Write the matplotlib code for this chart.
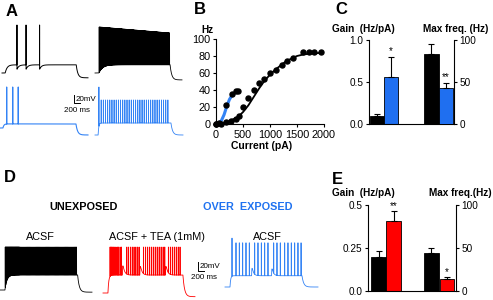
import numpy as np
import matplotlib
matplotlib.use("Agg")
import matplotlib.pyplot as plt

plt.rcParams['font.family'] = ['Liberation Sans', 'DejaVu Sans']

# ---------------- DATA ----------------
# Panel B: firing frequency (Hz) vs injected current (pA)
b_black_pts_x = [0, 100, 180, 280, 370, 420, 500, 600, 700, 800, 890, 1000, 1110, 1220, 1320, 1430, 1620, 1720, 1820, 1940]
b_black_pts_y = [0, 0, 2, 4, 6, 10, 20, 31, 40, 48, 53, 60, 64, 69, 74, 78, 85, 85, 85, 85]
b_blue_pts_x = [0, 50, 185, 300, 370, 400]
b_blue_pts_y = [0, 1, 22, 35, 39, 39]
b_black_fit_x = [0, 200, 400, 500, 600, 700, 800, 900, 1000, 1100, 1200, 1300, 1400, 1500, 1600, 1700, 1800, 1900]
b_black_fit_y = [0, 2, 8, 14, 22, 32, 42, 51, 58, 64, 69, 74, 77, 80, 81.5, 82.5, 83, 83.5]
b_blue_fit_x = [0, 50, 100, 150, 200, 250, 300, 350, 400]
b_blue_fit_y = [0, 1, 4, 11, 21, 29, 34, 37, 38]

# Panel C: gain and max frequency (control black, over-exposed blue)
c_gain = [0.10, 0.56]
c_gain_err_top = [0.12, 0.80]
c_gain_sig = ['', '*']
c_maxf = [83, 43]
c_maxf_err_top = [95, 49]
c_maxf_sig = ['', '**']

# Panel E: gain and max frequency (ACSF black, ACSF+TEA red)
e_gain = [0.20, 0.405]
e_gain_err_top = [0.23, 0.465]
e_gain_sig = ['', '**']
e_maxf = [44, 14]
e_maxf_err_top = [50, 16]
e_maxf_sig = ['', '*']

# Voltage traces (ms, mV); spike peaks referenced to +30 mV, rest -70 mV
a1_spikes = [470, 755, 1180]
a1_peaks = [30, 30, 30]
a2_first_spike, a2_last_spike, a2_isi = 130, 2320, 12
a2_peak_first, a2_peak_last = 30, 17
a3_spikes = [205, 390, 560]
a3_peaks = [30, 30, 30]
a4_first_spike, a4_first_peak = 120, 30
a4_train_start, a4_train_end, a4_isi, a4_peak = 190, 2300, 66, 3
d1_fast_start, d1_fast_end, d1_fast_isi = 160, 600, 14
d1_slow_start, d1_slow_end, d1_slow_isi = 630, 2350, 34
d2_spikes = [215, 240, 265, 295, 325, 360, 395, 435, 475, 520, 565,
             725, 780, 835, 890, 945, 1000, 1055, 1100,
             1230, 1290, 1350, 1410, 1470, 1530, 1590, 1650, 1710, 1770, 1830, 1880,
             1990, 2050, 2110, 2170, 2230, 2290, 2345]
d2_humps = [(590, 32, 50), (1120, 30, 50), (1900, 30, 50)]
d3_spikes = [211, 331, 431, 532, 632, 732, 894, 993, 1094, 1195, 1294,
             1466, 1565, 1665, 1797, 1896, 1996, 2098, 2197, 2290]
d3_peaks = [34] + [24] * 19
d3_humps = [(800, 26, 45), (1400, 24, 45)]

# ---------------- STYLE / LAYOUT ----------------
BLUE = '#3383f5'
BLUE_TXT = '#1f72f0'
BLUE_BAR = '#1f6ff0'
RED = '#ff0000'
TICK_FS = 7.2
LAB_FS = 7.2
W, H = 493, 300
fig = plt.figure(figsize=(W / 100, H / 100), dpi=100)


def box(x0, y0, x1, y1):
    return [x0 / W, 1 - y1 / H, (x1 - x0) / W, (y1 - y0) / H]


def label(x, y, s, **kw):
    kw.setdefault('ha', 'center')
    kw.setdefault('va', 'center')
    fig.text(x / W, 1 - y / H, s, **kw)


def build_trace(T, on, off, rest, plateau, after, trough, spikes, peaks,
                tau_on=40, tau_off=50, tau_ahp=40, humps=()):
    t = np.arange(0, T, 0.5)
    base = np.full_like(t, rest, dtype=float)
    m = (t >= on) & (t < off)
    base[m] = rest + (plateau - rest) * (1 - np.exp(-(t[m] - on) / tau_on))
    v_off = rest + (plateau - rest) * (1 - np.exp(-(off - on) / tau_on))
    m2 = t >= off
    base[m2] = after + (v_off - after) * np.exp(-(t[m2] - off) / tau_off)
    ahp = np.zeros_like(t)
    for s in spikes:
        k = (t >= s + 1.5) & (t < off)
        ahp[k] = np.minimum(ahp[k], (trough - plateau) * np.exp(-(t[k] - s - 1.5) / tau_ahp))
    v = base + ahp
    for (h0, amp, tau) in humps:
        k = (t >= h0) & (t < off)
        v[k] += amp * (1 - np.exp(-(t[k] - h0) / 8)) * np.exp(-(t[k] - h0) / tau)
    for s, p in zip(spikes, peaks):
        k = (t >= s - 1) & (t <= s + 1.5)
        v_pre = np.interp(s - 1, t, v)
        v_post = np.interp(s + 1.5, t, v)
        v[k] = np.interp(t[k], [s - 1, s, s + 1.5], [v_pre, p, v_post])
    return t, v


def trace_axes(x0, x1, px_peak, px_rest, T, pad_top=4, pad_bot=9):
    s = 100.0 / (px_rest - px_peak)
    ax = fig.add_axes(box(x0, px_peak - pad_top, x1, px_rest + pad_bot))
    ax.set_xlim(0, T)
    ax.set_ylim(-70 - pad_bot * s, 30 + pad_top * s)
    ax.axis('off')
    return ax


def scale_bar(x0, y0, x1, y1):
    ax = fig.add_axes(box(x0, y0, x1, y1))
    ax.plot([0, 0, 200], [20, 0, 0], color='k', lw=0.7, clip_on=False)
    ax.set_xlim(0, 200)
    ax.set_ylim(0, 20)
    ax.axis('off')


# ---------------- PANEL A ----------------
T = 2700
t, v = build_trace(T, 100, 2330, -70, -53, -80, -62, a1_spikes, a1_peaks, tau_on=60, tau_ahp=60)
trace_axes(2, 88, 25, 73, T).plot(t, v, color='k', lw=0.7, clip_on=False)

a2_spikes = np.arange(a2_first_spike, a2_last_spike, a2_isi)
a2_peaks = np.linspace(a2_peak_first, a2_peak_last, len(a2_spikes))
t, v = build_trace(T, 120, 2330, -70, -52, -85, -52, a2_spikes, a2_peaks, tau_on=120)
trace_axes(95, 182, 27, 73, T).plot(t, v, color='k', lw=0.6, clip_on=False)

t, v = build_trace(T, 90, 2330, -70, -60, -87, -43, a3_spikes, a3_peaks, tau_on=30, tau_ahp=60)
trace_axes(0, 88, 87, 128, T).plot(t, v, color=BLUE, lw=0.8, clip_on=False)

a4_spikes = [a4_first_spike] + list(np.arange(a4_train_start, a4_train_end, a4_isi))
a4_peaks = [a4_first_peak] + [a4_peak] * (len(a4_spikes) - 1)
t, v = build_trace(T, 95, 2330, -70, -45, -70, -41, a4_spikes, a4_peaks, tau_on=20, tau_ahp=25)
trace_axes(95, 183, 87, 135, T).plot(t, v, color=BLUE, lw=0.6, clip_on=False)

scale_bar(74, 95, 80, 103)
label(75.5, 99, '20mV', ha='left', fontsize=5.8)
label(77, 110, '200 ms', fontsize=5.8)

# ---------------- PANEL D ----------------
T = 2800
d1_spikes = list(np.arange(d1_fast_start, d1_fast_end, d1_fast_isi)) + list(np.arange(d1_slow_start, d1_slow_end, d1_slow_isi))
t, v = build_trace(T, 150, 2362, -70, -35, -75, -35, d1_spikes, [30] * len(d1_spikes), tau_on=60)
trace_axes(0, 92, 247, 290, T).plot(t, v, color='k', lw=0.6, clip_on=False)

t, v = build_trace(T, 150, 2432, -70, -31, -78, -31, d2_spikes, [30] * len(d2_spikes), tau_on=25, humps=d2_humps)
trace_axes(103, 195, 247, 293, T).plot(t, v, color=RED, lw=0.6, clip_on=False)

t, v = build_trace(T, 150, 2318, -70, -46, -70, -46, d3_spikes, d3_peaks, tau_on=20, humps=d3_humps)
trace_axes(225, 318, 240, 287, T).plot(t, v, color=BLUE, lw=0.6, clip_on=False)

scale_bar(198, 262, 204, 271)
label(199.5, 266, '20mV', ha='left', fontsize=5.8)
label(204, 277.5, '200 ms', fontsize=5.8)

label(84, 207, 'UNEXPOSED', fontsize=7.8, fontweight='bold')
label(248, 207, 'OVER  EXPOSED', fontsize=7.8, fontweight='bold', color=BLUE_TXT)
label(40, 237, 'ACSF', fontsize=7.8)
label(157, 237, 'ACSF + TEA (1mM)', fontsize=7.8)
label(267, 237, 'ACSF', fontsize=7.8)

# ---------------- PANEL B ----------------
axB = fig.add_axes(box(216, 39, 324, 124))
axB.plot(b_black_fit_x, b_black_fit_y, color='k', lw=1.3, clip_on=False)
axB.plot(b_blue_fit_x, b_blue_fit_y, color=BLUE, lw=2.2, clip_on=False)
axB.plot(b_black_pts_x, b_black_pts_y, 'o', color='k', ms=3.6, clip_on=False)
axB.plot(b_blue_pts_x, b_blue_pts_y, 'o', color='k', ms=3.6, clip_on=False)
axB.set_xlim(0, 2000)
axB.set_ylim(0, 100)
axB.set_xticks([0, 500, 1000, 1500, 2000])
axB.set_yticks([0, 20, 40, 60, 80, 100])
for sp in ['top', 'right']:
    axB.spines[sp].set_visible(False)
for sp in ['left', 'bottom']:
    axB.spines[sp].set_linewidth(0.8)
axB.tick_params(direction='out', length=2.5, width=0.8, labelsize=TICK_FS + 0.6, pad=1.5)
label(207, 30, 'Hz', fontsize=LAB_FS, fontweight='bold')
label(262, 146, 'Current (pA)', fontsize=LAB_FS + 0.3, fontweight='bold')


# ---------------- PANELS C & E ----------------
def bar_panel(bx, gain, gain_top, gain_sig, maxf, maxf_top, maxf_sig, color,
              xmax, pos_gain, pos_maxf, gain_ticks, gain_labels):
    ax = fig.add_axes(bx)
    ax2 = ax.twinx()
    wbar = 0.98
    for a, xs, vals, tops, sigs, ylim in [(ax, pos_gain, gain, gain_top, gain_sig, gain_ticks[-1]),
                                          (ax2, pos_maxf, maxf, maxf_top, maxf_sig, 100)]:
        a.bar(xs, vals, width=wbar, color=['k', color], edgecolor='k', linewidth=0.6)
        a.errorbar(xs, vals, yerr=[[0] * len(vals), [tp - vv for tp, vv in zip(tops, vals)]],
                   fmt='none', ecolor='k', elinewidth=0.8, capsize=2.2, capthick=0.8)
        for xx, tp, sg in zip(xs, tops, sigs):
            if sg:
                a.annotate(sg, (xx, tp), xytext=(0, 0.3), textcoords='offset points',
                           ha='center', va='bottom', fontsize=7)
        a.set_ylim(0, ylim)
        a.set_xlim(0, xmax)
    ax.set_yticks(gain_ticks)
    ax.set_yticklabels(gain_labels)
    ax2.set_yticks([0, 50, 100])
    ax.set_xticks([])
    for sp in ['top', 'right']:
        ax.spines[sp].set_visible(False)
    for sp in ['top', 'left', 'bottom']:
        ax2.spines[sp].set_visible(False)
    for a in (ax, ax2):
        for sp in a.spines.values():
            sp.set_linewidth(0.8)
        a.tick_params(direction='out', length=2.5, width=0.8, labelsize=TICK_FS, pad=1.5)
    return ax


bar_panel(box(369, 40, 454, 124), c_gain, c_gain_err_top, c_gain_sig,
          c_maxf, c_maxf_err_top, c_maxf_sig, BLUE_BAR,
          85 / 14.5, [0.55, 1.52], [4.31, 5.31], [0.0, 0.5, 1.0], ['0.0', '0.5', '1.0'])
label(363, 29, 'Gain  (Hz/pA)', fontsize=LAB_FS, fontweight='bold')
label(456, 29, 'Max freq. (Hz)', fontsize=LAB_FS, fontweight='bold')

bar_panel(box(368, 205, 456, 291), e_gain, e_gain_err_top, e_gain_sig,
          e_maxf, e_maxf_err_top, e_maxf_sig, RED,
          88 / 15.0, [0.7, 1.7], [4.23, 5.27], [0.0, 0.25, 0.5], ['0.0', '0.25', '0.5'])
label(363, 193, 'Gain  (Hz/pA)', fontsize=LAB_FS, fontweight='bold')
label(460, 193, 'Max freq.(Hz)', fontsize=LAB_FS, fontweight='bold')

# Panel letters
for (x, y, s) in [(12, 11, 'A'), (200, 10, 'B'), (341, 10, 'C'), (10, 178, 'D'), (337, 179, 'E')]:
    label(x, y, s, fontsize=12, fontweight='bold')

fig.savefig('out.png', dpi=100)
